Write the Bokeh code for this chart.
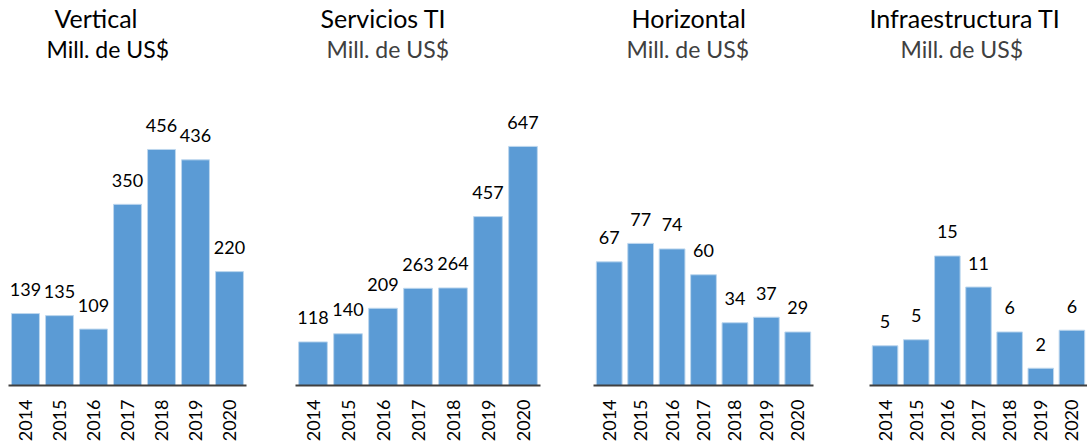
from bokeh.plotting import figure
from bokeh.models import ColumnDataSource, FactorRange, Range1d, Title
from bokeh.layouts import row
from bokeh.core.properties import value
from bokeh.embed import file_html
from bokeh.resources import INLINE

years = ["2014", "2015", "2016", "2017", "2018", "2019", "2020"]

vertical = [139, 135, 109, 350, 456, 436, 220]
servicios = [118, 140, 209, 263, 264, 457, 647]
horizontal = [67, 77, 74, 60, 34, 37, 29]
infra = [4.6, 5.3, 15.0, 11.4, 6.2, 2.0, 6.4]

titles = ["Vertical", "Servicios TI", "Horizontal", "Infraestructura TI"]
unit = "Mill. de US$"

FONT = "Lato"
BAR = "#5B9BD5"

# per panel: values, y_end, frame width, left/right border, title offsets, subtitle colour
panels = [
    (vertical, 624, 238, 8, 24, 46, 38, "#000000"),
    (servicios, 874, 245, 25, 27, 25, 31, "#404040"),
    (horizontal, 175, 220, 26, 28, 38, 33, "#404040"),
    (infra, 37.4, 218, 28, 0, 0, 31, "#404040"),
]

figs = []
for (vals, yend, fw, bl, br, off1, off2, subcol), ttl in zip(panels, titles):
    src = ColumnDataSource(dict(
        year=years,
        value=vals,
        label=[f"{v:.0f}" for v in vals],
    ))
    p = figure(
        x_range=FactorRange(*years),
        y_range=Range1d(0, yend),
        frame_width=fw,
        height=444,
        min_border_left=bl,
        min_border_right=br,
        min_border_top=7,
        min_border_bottom=0,
        y_axis_location=None,
        toolbar_location=None,
        output_backend="svg",
        outline_line_color=None,
    )
    p.grid.visible = False
    p.vbar(x="year", top="value", width=0.82, source=src,
           fill_color=BAR, line_color="#BDD7EE", line_width=1)
    p.text(x="year", y="value", text="label", source=src,
           text_align="center", text_baseline="alphabetic", y_offset=-24,
           text_font=value(FONT), text_font_size="18px", text_color="#000000")
    ax = p.xaxis[0]
    ax.axis_line_color = "#404040"
    ax.axis_line_width = 2
    ax.major_tick_line_color = None
    ax.minor_tick_line_color = None
    ax.major_label_orientation = 1.5708
    ax.major_label_text_font = FONT
    ax.major_label_text_font_size = "18px"
    ax.major_label_text_color = "#000000"
    ax.major_label_standoff = 8
    p.add_layout(Title(text=unit, align="left", text_font=FONT,
                       text_font_size="23px", text_font_style="normal",
                       text_color=subcol, offset=off2, standoff=0), "above")
    p.add_layout(Title(text=ttl, align="left", text_font=FONT,
                       text_font_size="25px", text_font_style="normal",
                       text_color="#000000", offset=off1, standoff=0), "above")
    figs.append(p)

layout = row(*figs, spacing=0)
open("out.html", "w").write(file_html(layout, INLINE))
